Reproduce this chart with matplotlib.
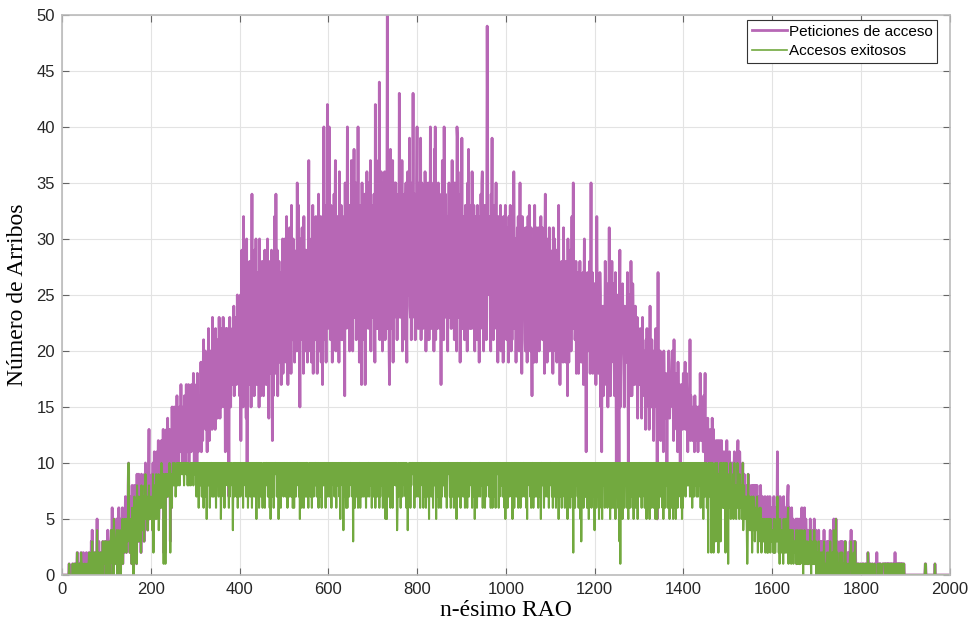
import numpy as np
import matplotlib.pyplot as plt

# valores codificados por caracter: 0-9, a=10 ... z=35, A=36 ... O=50
# cada cadena = 100 RAOs (10 grupos de 10)
SIMBOLOS = '0123456789abcdefghijklmnopqrstuvwxyzABCDEFGHIJKLMNO'

peticiones_txt = [
    '0000000000 0000010000 0001000100 0102200110 1021010201 1100210101 2011031402 1012102150 2131022012 1302213120',
    '3142032103 4261305243 1354023614 2053461325 357426538a 4627351846 0283647195 6394758296 4758396a57 86479d5867',
    '7594a48b57 8a6b79c586 9b7c8a6d2b a82b9d7eac 8db39c6fad cbfad8ecgb 9eadfcbhce dafcbgeadh cfbeh9dgcf bhdfcieadg',
    'cfhaidbgec gdjbhfcilf eikdhgbjfm hcjfkeidng fkhjdmglie ilgnjekhmf kgnilfjbmh jmhkg7lnif lijmhkogjn mkhjplnikg',
    'hpcmtjqfwl ogrkeuanqi mhslpfnyjr kqgtmiuhol rjnfuksgpm lsigqmtkoh pjuhnerlsi mtkcqgrjwn iyoltgqmsj qkrhomuisl',
    'nulrjwoqht pkvmsixnrl uotjqlsnkz roxkpfuosm vlqiwnsktp mtjrpBluko sjupxiqmvn lwpuiroysk tmwjqvhsoE nvlsjxqGmt',
    'qEnvlxowjs tmyqwBkuro wnsjAqunxl rvluowgzmt ysEoumxkvp mBsvkyqCnu tzlrwmEouj xpvnhzlwsq uyhsxmAqvo zmtpBkwrxn',
    'vnyrjGtzpm xmBqIlvsAo zkwnxqAluy rxOmvzkhtC wpmuBjxsnz tzqwlunyrH znxurBkwlv vyqwzmjuAp xtDonyluzq HpwnylvmzE',
    'uxmnzrwDlq zvmxquoAwk ruxlzvltnE vmyownzkCs Elvxrmuzpw xmvhyoBrzl Ewnyuprwkv uzqnwtmsBo sxwlzqyvkE DnyuoxjuAm',
    'Dmwtnulrxo rwkzpCtnmx tvmAwquxnk wluvpxlwqj vrmyozAnwk sxmvrlwNBq uwpvnkytDm vlxqunrzmw tjwpumsxkq vlujwrouxn',
    'rlsvqjwoux tkvlunpAsm qujtrvmwpk rzluqiwnvo uqlkvpsjqw smxtkpvngu qupjxrnvjt tmvrkulswo pvlsotiuyn rtjpumqvkt',
    'plrnsivmru rkqtjpsmxl ohmrpslqjv qnskjqosgu pjrmqtkpwn qzmprlnsio nrkiqosmpj omqrhpukql bpnrkompsi pzmqrinpqm',
    'nqhowpknim lrpfkbonlg oklsphjqlf mnvkogmjsl kqolgjrmal jlpkaotfjl mkqlnifolj lnjrmailpg jsmgiqnjmh kojlhnekil',
    'ihmjlejnih jgikdlfmhk hidkojhfli gjckfihmgi 5hrgjifkcg ihfjbkhegi hg9fihkgeh fhgjkigcle gihfdhbjfe hf8gehgdfi',
    'eghjdfigeb fdgelcgefd cedfbgdecf debfcedifc ecfdbgceia bdacebdcab cadbecbd9a ab9c8bac79 9ca8bc9a7b 8a9b7a8c9a',
    '6a9b8a6a79 8a69b7a869 7ac8a6b978 968a579687 6857496785 5768475868 4685786475 5748635746 4657354637 3564736456',
    '4537263546 5b46352746 3546274536 4356782645 3526435243 2435142532 3152436241 4263153241 2314253142 3142513240',
    '2130412302 1320314120 2103120312 4120213052 1025103210 2013021301 1203310120 0120132410 2103013200 0100100010',
    '0010010001 1000021010 0100010000 1000020100 0101000011 1111011110 1101001010 0110012101 1011010110 1011001000',
    '0000000000 0000000000 0000000000 0000000000 0000110000 0000000000 0000001000 0000000000 0000000000 0000000000',
]

exitosos_txt = [
    '0000000000 0000010000 0001000100 0102000110 1021010001 1100010101 2011021302 1012102140 2121002012 1302113120',
    '3122032103 4241305233 1344023413 2043451325 345425437a 4525341635 0273536184 5374637285 4647386956 7546785756',
    '6574927856 7958779476 896a796919 9719897999 7a9297699a 889a9789a8 8a9a8a99a9 a99a8a9aa9 9a8a9899a8 a99aa8a9a9',
    '9a7a89a6a9 a8a97a8a6a 9a79a5a8a9 8a6a79aa78 a79a8a6a9a 9a7a89a58a a9a7a6a89a 9a8a96a7a8 a9a849a7aa 9a78a69a79',
    'a7a8a9a6a9 9a8a7a8a69 a8a7a9a6a8 9a7a89a5a8 a9a6a8a79a 869a7a6a9a a8a7a9a6a5 9a7a8a6a9a a9a7a8a59a 9a6a8a9a7a',
    'a8a7a9a6a9 8a7a9a79a6 9a6a8a7a8a a9a7a5a8a6 9a8a6a9a7a a7a869a8a7 9a6a8a7a9a a8a7a9a6a9 9a7a6a8a8a a9a6a8a7a9',
    '9a7a8a6a9a a8a7a9a6a8 9a8a7a5a9a a8a4a7a9a6 9a6a8a7a9a a8a7a3a9a6 9a7a8a6a9a a6a8a7a9a7 9a8a6a7a9a a7a9a8a6a9',
    'a7a8a6a9a7 8a9a6a7a8a 9a6a8a7a5a a5a8a7a9a6 9a7a6a8a9a a8a946a7a9 9a6a8a7a9a a8a7a6a948 9a7a6a8a9a a9a6a8a7a9',
    '9a7a8a6a9a a8a6a7a9a6 9a7a8a5a8a a7a9a6a8a9 8a5a7a9a6a a8a6a7a9a8 9a7a8a6a9a a9a7a6a8a7 8a6a9a7a5a a8a7a9a6a8',
    'a9a7a8a6a7 9a6a8a7a9a a8a6a9a7a5 9a8a6a7a9a a7a8a9a6a8 9a6a7a8a9a a7a9a6a8a6 9a8a7a6a9a a9a6a7a8a9 8a7a9a6a5a',
    'a8a6a9a7a8 9a7a5a8a6a a8a7a9a6a8 9a6a8a7a9a a7a8a6a5a9 9a8a7a6a9a a6a8a7a9a7 9a6a8a7a5a a8a9a6a7a8 8a7a9a6a9a',
    'a8a7a6a9a7 9a6a8a7a5a a7a8a6a7a9 8a6a7a8a5a 9a7a6a8a7a 82a7a6a8a9 a7a6a8a5a3 8a7a6a8a7a 7a6a8a5a7a 9a6a7a8a94',
    'a7a6a8a7a5 9a7a6a5a8a 8a6a7a8a6a 9a7a5a8a6a 8a6a7a5a7a 7a6a53a1a8 9a5a7a6a8a 8a6a75a7a6 a7a8a6a5a9 8a6a7a5a8a',
    'a7a8a6a7a9 8a6a7a5a6a 9a75a7a6a7 8a6a7a5a8a 5a7a6a8a7a 9a6a5a7a6a 8a9a6a7a5a 8a6a7a5a6a 9a5a7a6a8a 8a7a6a5a6a',
    '9a8a7a9a8a 8a9a7a8a96 a8a7a9a8a7 9a7a8a9a6a 8a9a5a8a7a 8a6792a8a7 9a2a8a7289 8a397a8928 79a39a896a 698a297a89',
    '18796a5867 7958a68758 6a97859867 857a468576 5741395674 4657264756 3564675254 4636524535 3545243525 2453525344',
    '3425252434 4735241534 2434153425 3245561434 2414324132 2324131421 2141324230 3142132131 1213242031 2131412130',
    '2120311202 1220213110 1102120211 3110212041 1025102110 1012021201 1102310110 0110122310 1102013100 0100100010',
    '0010010001 1000020010 0100010000 1000000100 0101000011 1111011110 1101001010 0110010101 1011010110 1011001000',
    '0000000000 0000000000 0000000000 0000000000 0000110000 0000000000 0000001000 0000000000 0000000000 0000000000',
]


def decodificar(bloques):
    s = ''.join(bloques).replace(' ', '')
    return np.array([SIMBOLOS.index(c) for c in s])


peticiones = decodificar(peticiones_txt)
exitosos = decodificar(exitosos_txt)
rao_p = np.arange(1, len(peticiones) + 1)
rao_e = np.arange(1, len(exitosos) + 1)

fig = plt.figure(figsize=(9.69, 6.35), dpi=100)
ax = fig.add_axes([0.064, 0.0945, 0.916, 0.882])

ax.plot(rao_p, peticiones, color='#B767B5', lw=2.0, label='Peticiones de acceso')
ax.plot(rao_e, exitosos, color='#72A93F', lw=1.5, label='Accesos exitosos')

ax.set_xlim(0, 2000)
ax.set_ylim(0, 50)
ax.set_xticks(range(0, 2001, 200))
ax.set_yticks(range(0, 51, 5))
ax.grid(True, color='#E3E3E3', lw=0.8)
ax.set_axisbelow(True)
for sp in ax.spines.values():
    sp.set_color('#BBBBBB')
    sp.set_linewidth(1.2)
ax.tick_params(direction='in', top=True, right=True, length=5, width=0.8,
               color='#666666', labelcolor='#262626', labelsize=12, pad=5)
for lab in ax.get_xticklabels() + ax.get_yticklabels():
    lab.set_family('Liberation Sans')

ax.set_xlabel('n-ésimo RAO', family='Liberation Serif', fontsize=17, labelpad=2)
ax.set_ylabel('Número de Arribos', family='Liberation Serif', fontsize=17, labelpad=6)

leg = ax.legend(loc='upper right', bbox_to_anchor=(937 / 969, 615 / 635),
                bbox_transform=fig.transFigure, borderaxespad=0,
                prop={'family': 'Liberation Sans', 'size': 11},
                fancybox=False, framealpha=1, edgecolor='#333333',
                handlelength=2.3, handletextpad=0.1, borderpad=0.3,
                labelspacing=0.35)
leg.get_frame().set_linewidth(0.8)
for h in leg.get_lines():
    h.set_linewidth(2.0 if h.get_label().startswith('Pet') else 1.2)

fig.savefig('out.png', dpi=100)
